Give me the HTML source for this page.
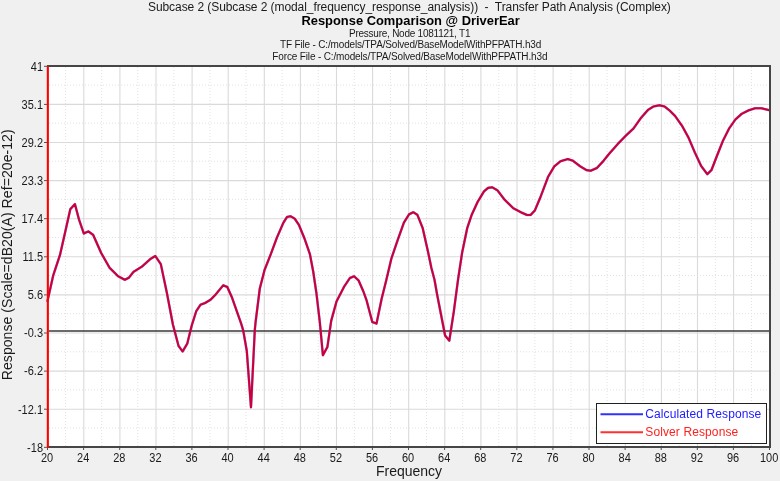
<!DOCTYPE html>
<html><head><meta charset="utf-8"><title>Response Comparison</title>
<style>
html,body{margin:0;padding:0;background:#f0f0f0;}
body{width:780px;height:481px;overflow:hidden;font-family:"Liberation Sans",Arial,sans-serif;}
svg{display:block;}
text{font-family:"Liberation Sans",Arial,sans-serif;fill:#1a1a1a;}
.t1{font-size:12px;}
.t2{font-size:12px;font-weight:bold;fill:#000;}
.t3{font-size:10px;}
.tk{font-size:11px;}
.ax{font-size:14px;}
.lg{font-size:12px;}
</style></head><body>
<svg width="780" height="481" viewBox="0 0 780 481">
<rect x="0" y="0" width="780" height="481" fill="#f0f0f0"/>
<rect x="47" y="66" width="723" height="381" fill="#ffffff"/>

<g stroke="#e2e2e2" stroke-width="1" stroke-dasharray="1 2" fill="none">
<line x1="65.55" y1="67" x2="65.55" y2="446"/>
<line x1="101.65" y1="67" x2="101.65" y2="446"/>
<line x1="137.75" y1="67" x2="137.75" y2="446"/>
<line x1="173.85" y1="67" x2="173.85" y2="446"/>
<line x1="209.95" y1="67" x2="209.95" y2="446"/>
<line x1="246.05" y1="67" x2="246.05" y2="446"/>
<line x1="282.15" y1="67" x2="282.15" y2="446"/>
<line x1="318.25" y1="67" x2="318.25" y2="446"/>
<line x1="354.35" y1="67" x2="354.35" y2="446"/>
<line x1="390.45" y1="67" x2="390.45" y2="446"/>
<line x1="426.55" y1="67" x2="426.55" y2="446"/>
<line x1="462.65" y1="67" x2="462.65" y2="446"/>
<line x1="498.75" y1="67" x2="498.75" y2="446"/>
<line x1="534.85" y1="67" x2="534.85" y2="446"/>
<line x1="570.95" y1="67" x2="570.95" y2="446"/>
<line x1="607.05" y1="67" x2="607.05" y2="446"/>
<line x1="643.15" y1="67" x2="643.15" y2="446"/>
<line x1="679.25" y1="67" x2="679.25" y2="446"/>
<line x1="715.35" y1="67" x2="715.35" y2="446"/>
<line x1="751.45" y1="67" x2="751.45" y2="446"/>
<line x1="49" y1="85.05" x2="769" y2="85.05"/>
<line x1="49" y1="123.15" x2="769" y2="123.15"/>
<line x1="49" y1="161.25" x2="769" y2="161.25"/>
<line x1="49" y1="199.35" x2="769" y2="199.35"/>
<line x1="49" y1="237.45" x2="769" y2="237.45"/>
<line x1="49" y1="275.55" x2="769" y2="275.55"/>
<line x1="49" y1="313.65" x2="769" y2="313.65"/>
<line x1="49" y1="351.75" x2="769" y2="351.75"/>
<line x1="49" y1="389.85" x2="769" y2="389.85"/>
<line x1="49" y1="427.95" x2="769" y2="427.95"/>
</g>
<g stroke="#dadada" stroke-width="1.1" fill="none">
<line x1="83.80" y1="67" x2="83.80" y2="446"/>
<line x1="119.90" y1="67" x2="119.90" y2="446"/>
<line x1="156.00" y1="67" x2="156.00" y2="446"/>
<line x1="192.10" y1="67" x2="192.10" y2="446"/>
<line x1="228.20" y1="67" x2="228.20" y2="446"/>
<line x1="264.30" y1="67" x2="264.30" y2="446"/>
<line x1="300.40" y1="67" x2="300.40" y2="446"/>
<line x1="336.50" y1="67" x2="336.50" y2="446"/>
<line x1="372.60" y1="67" x2="372.60" y2="446"/>
<line x1="408.70" y1="67" x2="408.70" y2="446"/>
<line x1="444.80" y1="67" x2="444.80" y2="446"/>
<line x1="480.90" y1="67" x2="480.90" y2="446"/>
<line x1="517.00" y1="67" x2="517.00" y2="446"/>
<line x1="553.10" y1="67" x2="553.10" y2="446"/>
<line x1="589.20" y1="67" x2="589.20" y2="446"/>
<line x1="625.30" y1="67" x2="625.30" y2="446"/>
<line x1="661.40" y1="67" x2="661.40" y2="446"/>
<line x1="697.50" y1="67" x2="697.50" y2="446"/>
<line x1="733.60" y1="67" x2="733.60" y2="446"/>
<line x1="49" y1="104.40" x2="769" y2="104.40"/>
<line x1="49" y1="142.50" x2="769" y2="142.50"/>
<line x1="49" y1="180.60" x2="769" y2="180.60"/>
<line x1="49" y1="218.70" x2="769" y2="218.70"/>
<line x1="49" y1="256.80" x2="769" y2="256.80"/>
<line x1="49" y1="294.90" x2="769" y2="294.90"/>
<line x1="49" y1="333.00" x2="769" y2="333.00"/>
<line x1="49" y1="371.10" x2="769" y2="371.10"/>
<line x1="49" y1="409.20" x2="769" y2="409.20"/>
</g>
<line x1="49" y1="331.06" x2="769" y2="331.06" stroke="#3a3a3a" stroke-width="1.4"/>
<path d="M47.5,301.0 L53.2,275.5 L60.0,254.9 L65.7,229.7 L70.3,209.2 L74.9,204.1 L79.0,219.5 L83.8,233.5 L88.4,231.4 L93.1,234.8 L101.3,253.2 L109.6,267.8 L117.9,276.1 L124.8,279.8 L128.9,277.7 L133.5,271.9 L141.8,266.7 L150.1,259.2 L155.3,256.0 L160.8,264.1 L166.7,292.0 L172.9,324.5 L178.5,345.8 L182.6,351.5 L187.3,343.5 L191.6,326.0 L196.2,311.3 L200.5,304.7 L205.1,303.0 L210.3,299.9 L215.5,294.7 L223.2,285.3 L227.3,287.0 L232.1,297.8 L240.9,322.8 L243.2,330.4 L246.8,351.0 L251.0,407.3 L254.8,330.0 L255.6,322.0 L259.8,288.5 L264.5,270.2 L270.8,254.1 L277.0,237.4 L283.3,222.9 L287.0,217.0 L290.5,216.2 L294.7,218.7 L298.9,224.9 L304.5,238.5 L309.9,254.1 L313.2,271.5 L316.4,293.0 L319.8,322.0 L322.9,355.2 L327.4,346.9 L331.2,320.9 L336.5,301.5 L344.2,286.5 L349.9,278.0 L354.1,276.3 L358.6,280.5 L363.4,291.5 L366.4,299.8 L372.3,322.0 L376.5,323.6 L381.7,298.5 L386.2,280.5 L391.4,258.5 L397.7,240.0 L403.9,222.6 L409.1,214.3 L413.3,212.2 L417.4,214.9 L422.6,227.8 L427.8,250.7 L431.4,268.0 L434.5,279.8 L437.2,295.0 L445.1,335.5 L449.3,340.7 L453.8,311.6 L458.0,279.8 L462.1,252.8 L467.3,227.8 L471.5,215.3 L477.7,201.8 L484.0,191.4 L488.1,187.9 L492.3,187.3 L497.5,190.4 L504.7,199.8 L513.1,208.1 L521.4,212.5 L527.0,215.0 L530.6,214.9 L534.8,210.6 L540.5,197.0 L548.1,176.8 L554.3,166.4 L560.5,161.2 L567.8,159.1 L573.0,160.8 L580.3,166.4 L586.5,170.1 L590.7,170.7 L596.9,168.0 L603.2,161.2 L609.4,153.5 L617.7,144.1 L626.0,135.5 L633.5,128.5 L640.8,118.1 L648.1,109.8 L653.3,106.6 L659.5,105.2 L664.7,106.6 L669.9,110.8 L675.1,116.0 L682.4,126.4 L688.6,137.8 L694.8,152.4 L701.1,165.9 L707.3,174.2 L711.5,170.0 L716.7,156.5 L722.9,140.9 L729.1,128.5 L735.4,119.5 L741.6,113.9 L748.9,110.2 L755.1,108.3 L761.4,108.3 L769.5,110.2" fill="none" stroke="#5a3ae0" stroke-width="2.5" stroke-linejoin="round" stroke-linecap="round" stroke-opacity="0.55"/>
<path d="M47.5,301.0 L53.2,275.5 L60.0,254.9 L65.7,229.7 L70.3,209.2 L74.9,204.1 L79.0,219.5 L83.8,233.5 L88.4,231.4 L93.1,234.8 L101.3,253.2 L109.6,267.8 L117.9,276.1 L124.8,279.8 L128.9,277.7 L133.5,271.9 L141.8,266.7 L150.1,259.2 L155.3,256.0 L160.8,264.1 L166.7,292.0 L172.9,324.5 L178.5,345.8 L182.6,351.5 L187.3,343.5 L191.6,326.0 L196.2,311.3 L200.5,304.7 L205.1,303.0 L210.3,299.9 L215.5,294.7 L223.2,285.3 L227.3,287.0 L232.1,297.8 L240.9,322.8 L243.2,330.4 L246.8,351.0 L251.0,407.3 L254.8,330.0 L255.6,322.0 L259.8,288.5 L264.5,270.2 L270.8,254.1 L277.0,237.4 L283.3,222.9 L287.0,217.0 L290.5,216.2 L294.7,218.7 L298.9,224.9 L304.5,238.5 L309.9,254.1 L313.2,271.5 L316.4,293.0 L319.8,322.0 L322.9,355.2 L327.4,346.9 L331.2,320.9 L336.5,301.5 L344.2,286.5 L349.9,278.0 L354.1,276.3 L358.6,280.5 L363.4,291.5 L366.4,299.8 L372.3,322.0 L376.5,323.6 L381.7,298.5 L386.2,280.5 L391.4,258.5 L397.7,240.0 L403.9,222.6 L409.1,214.3 L413.3,212.2 L417.4,214.9 L422.6,227.8 L427.8,250.7 L431.4,268.0 L434.5,279.8 L437.2,295.0 L445.1,335.5 L449.3,340.7 L453.8,311.6 L458.0,279.8 L462.1,252.8 L467.3,227.8 L471.5,215.3 L477.7,201.8 L484.0,191.4 L488.1,187.9 L492.3,187.3 L497.5,190.4 L504.7,199.8 L513.1,208.1 L521.4,212.5 L527.0,215.0 L530.6,214.9 L534.8,210.6 L540.5,197.0 L548.1,176.8 L554.3,166.4 L560.5,161.2 L567.8,159.1 L573.0,160.8 L580.3,166.4 L586.5,170.1 L590.7,170.7 L596.9,168.0 L603.2,161.2 L609.4,153.5 L617.7,144.1 L626.0,135.5 L633.5,128.5 L640.8,118.1 L648.1,109.8 L653.3,106.6 L659.5,105.2 L664.7,106.6 L669.9,110.8 L675.1,116.0 L682.4,126.4 L688.6,137.8 L694.8,152.4 L701.1,165.9 L707.3,174.2 L711.5,170.0 L716.7,156.5 L722.9,140.9 L729.1,128.5 L735.4,119.5 L741.6,113.9 L748.9,110.2 L755.1,108.3 L761.4,108.3 L769.5,110.2" fill="none" stroke="#cc0038" stroke-width="2.1" stroke-linejoin="round" stroke-linecap="round"/>
<g fill="#464646">
<rect x="47" y="65" width="724" height="2"/>
<rect x="47" y="446" width="724" height="2"/>
<rect x="769" y="65" width="2" height="383"/>
</g>
<rect x="46.8" y="66" width="2.1" height="382" fill="#ff0000"/>
<g stroke="#505050" stroke-width="1" fill="none">
<line x1="47.50" y1="448" x2="47.50" y2="450"/>
<line x1="83.60" y1="448" x2="83.60" y2="450"/>
<line x1="119.70" y1="448" x2="119.70" y2="450"/>
<line x1="155.80" y1="448" x2="155.80" y2="450"/>
<line x1="191.90" y1="448" x2="191.90" y2="450"/>
<line x1="228.00" y1="448" x2="228.00" y2="450"/>
<line x1="264.10" y1="448" x2="264.10" y2="450"/>
<line x1="300.20" y1="448" x2="300.20" y2="450"/>
<line x1="336.30" y1="448" x2="336.30" y2="450"/>
<line x1="372.40" y1="448" x2="372.40" y2="450"/>
<line x1="408.50" y1="448" x2="408.50" y2="450"/>
<line x1="444.60" y1="448" x2="444.60" y2="450"/>
<line x1="480.70" y1="448" x2="480.70" y2="450"/>
<line x1="516.80" y1="448" x2="516.80" y2="450"/>
<line x1="552.90" y1="448" x2="552.90" y2="450"/>
<line x1="589.00" y1="448" x2="589.00" y2="450"/>
<line x1="625.10" y1="448" x2="625.10" y2="450"/>
<line x1="661.20" y1="448" x2="661.20" y2="450"/>
<line x1="697.30" y1="448" x2="697.30" y2="450"/>
<line x1="733.40" y1="448" x2="733.40" y2="450"/>
<line x1="769.50" y1="448" x2="769.50" y2="450"/>
<line x1="44" y1="66.30" x2="47" y2="66.30"/>
<line x1="44" y1="104.40" x2="47" y2="104.40"/>
<line x1="44" y1="142.50" x2="47" y2="142.50"/>
<line x1="44" y1="180.60" x2="47" y2="180.60"/>
<line x1="44" y1="218.70" x2="47" y2="218.70"/>
<line x1="44" y1="256.80" x2="47" y2="256.80"/>
<line x1="44" y1="294.90" x2="47" y2="294.90"/>
<line x1="44" y1="333.00" x2="47" y2="333.00"/>
<line x1="44" y1="371.10" x2="47" y2="371.10"/>
<line x1="44" y1="409.20" x2="47" y2="409.20"/>
<line x1="44" y1="447.30" x2="47" y2="447.30"/>
</g>
<g class="tk" text-anchor="middle">
<text transform="translate(47.1,461.5) scale(1,1.1)">20</text>
<text transform="translate(83.2,461.5) scale(1,1.1)">24</text>
<text transform="translate(119.3,461.5) scale(1,1.1)">28</text>
<text transform="translate(155.4,461.5) scale(1,1.1)">32</text>
<text transform="translate(191.5,461.5) scale(1,1.1)">36</text>
<text transform="translate(227.6,461.5) scale(1,1.1)">40</text>
<text transform="translate(263.7,461.5) scale(1,1.1)">44</text>
<text transform="translate(299.8,461.5) scale(1,1.1)">48</text>
<text transform="translate(335.9,461.5) scale(1,1.1)">52</text>
<text transform="translate(372.0,461.5) scale(1,1.1)">56</text>
<text transform="translate(408.1,461.5) scale(1,1.1)">60</text>
<text transform="translate(444.2,461.5) scale(1,1.1)">64</text>
<text transform="translate(480.3,461.5) scale(1,1.1)">68</text>
<text transform="translate(516.4,461.5) scale(1,1.1)">72</text>
<text transform="translate(552.5,461.5) scale(1,1.1)">76</text>
<text transform="translate(588.6,461.5) scale(1,1.1)">80</text>
<text transform="translate(624.7,461.5) scale(1,1.1)">84</text>
<text transform="translate(660.8,461.5) scale(1,1.1)">88</text>
<text transform="translate(696.9,461.5) scale(1,1.1)">92</text>
<text transform="translate(733.0,461.5) scale(1,1.1)">96</text>
<text transform="translate(769.1,461.5) scale(1,1.1)">100</text>
</g>
<g class="tk" text-anchor="end">
<text transform="translate(43.0,70.6) scale(1,1.1)">41</text>
<text transform="translate(43.0,108.7) scale(1,1.1)">35.1</text>
<text transform="translate(43.0,146.8) scale(1,1.1)">29.2</text>
<text transform="translate(43.0,184.9) scale(1,1.1)">23.3</text>
<text transform="translate(43.0,223.0) scale(1,1.1)">17.4</text>
<text transform="translate(43.0,261.1) scale(1,1.1)">11.5</text>
<text transform="translate(43.0,299.2) scale(1,1.1)">5.6</text>
<text transform="translate(43.0,337.3) scale(1,1.1)">-0.3</text>
<text transform="translate(43.0,375.4) scale(1,1.1)">-6.2</text>
<text transform="translate(43.0,413.5) scale(1,1.1)">-12.1</text>
<text transform="translate(43.0,451.6) scale(1,1.1)">-18</text>
</g>
<text class="ax" x="409" y="476" text-anchor="middle">Frequency</text>
<text class="ax" transform="translate(11.9,254.8) rotate(-90)" text-anchor="middle" textLength="250.9" lengthAdjust="spacing">Response (Scale=dB20(A) Ref=20e-12)</text>
<text class="t1" x="409.4" y="10.9" text-anchor="middle" textLength="522.9" lengthAdjust="spacing" xml:space="preserve">Subcase 2 (Subcase 2 (modal_frequency_response_analysis))  -  Transfer Path Analysis (Complex)</text>
<text class="t2" transform="translate(410.6,24.6) scale(1.076,1)" text-anchor="middle">Response Comparison @ DriverEar</text>
<text class="t3" x="409.7" y="36.9" text-anchor="middle" textLength="121.5" lengthAdjust="spacing">Pressure, Node 1081121, T1</text>
<text class="t3" x="410.6" y="48.2" text-anchor="middle" textLength="261.3" lengthAdjust="spacing">TF File - C:/models/TPA/Solved/BaseModelWithPFPATH.h3d</text>
<text class="t3" x="409.9" y="59.8" text-anchor="middle" textLength="275.1" lengthAdjust="spacing">Force File - C:/models/TPA/Solved/BaseModelWithPFPATH.h3d</text>
<rect x="596.5" y="403.5" width="170" height="40" fill="#ffffff" stroke="#202020" stroke-width="1"/>
<line x1="600.5" y1="414.2" x2="643" y2="414.2" stroke="#3030ff" stroke-width="2"/>
<line x1="600.5" y1="432.2" x2="643" y2="432.2" stroke="#ff3030" stroke-width="2"/>
<text class="lg" x="645.3" y="417.6" style="fill:#2020ff" textLength="116" lengthAdjust="spacing">Calculated Response</text>
<text class="lg" x="645.3" y="435.6" style="fill:#ff2020" textLength="92.9" lengthAdjust="spacing">Solver Response</text>
</svg>
</body></html>
